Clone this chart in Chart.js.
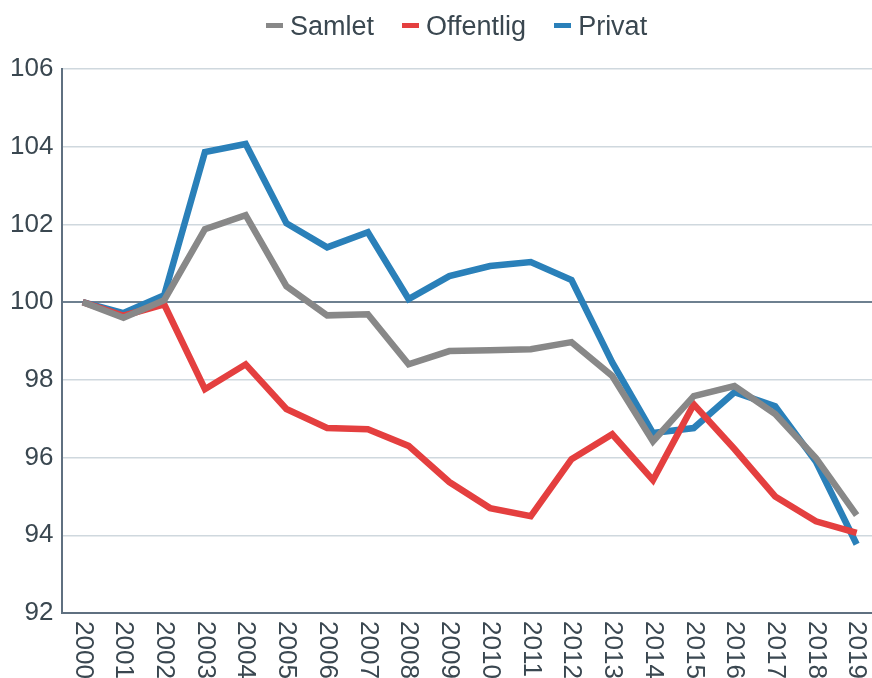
<!DOCTYPE html>
<html>
<head>
<meta charset="utf-8">
<script src="https://cdn.jsdelivr.net/npm/chart.js@4"></script>
<style>
  html, body { margin: 0; padding: 0; background: #fff; overflow: hidden; }
  #wrap { position: relative; width: 872px; height: 678px; overflow: hidden; }
  #legend {
    position: absolute; top: 10px; left: 266px;
    display: flex; gap: 28px;
    font-family: 'Liberation Sans', Arial, sans-serif;
    font-size: 27px; line-height: 32px; color: #3a4750;
  }
  #legend span.item { display: flex; align-items: center; gap: 7px; }
  #legend span.mark { display: inline-block; width: 17px; height: 5px; margin-top: -1px; }
</style>
</head>
<body>
<div id="wrap">
  <canvas id="chart" width="877" height="678"></canvas>
  <div id="legend"></div>
</div>
<script>
// Data
const years = ['2000', '2001', '2002', '2003', '2004', '2005', '2006', '2007', '2008', '2009',
  '2010', '2011', '2012', '2013', '2014', '2015', '2016', '2017', '2018', '2019'];

const samlet = [100, 99.6, 100.05, 101.88, 102.24, 100.41, 99.66, 99.69, 98.4, 98.74,
  98.76, 98.79, 98.97, 98.1, 96.42, 97.58, 97.84, 97.12, 95.99, 94.52];

const offentlig = [100, 99.65, 99.94, 97.76, 98.4, 97.25, 96.76, 96.73, 96.3, 95.37,
  94.7, 94.49, 95.96, 96.6, 95.42, 97.37, 96.22, 95.0, 94.36, 94.06];

const privat = [100, 99.72, 100.18, 103.86, 104.07, 102.03, 101.41, 101.8, 100.08, 100.67,
  100.93, 101.03, 100.57, 98.45, 96.63, 96.76, 97.68, 97.32, 95.9, 93.77];

const yTicks = [92, 94, 96, 98, 100, 102, 104, 106];

const FONT = "'Liberation Sans', Arial, sans-serif";
const TEXT = '#3a4750';
const AXIS = '#5f7080';

const series = [
  { label: 'Samlet', data: samlet, color: '#888888' },
  { label: 'Offentlig', data: offentlig, color: '#e43f3f' },
  { label: 'Privat', data: privat, color: '#2a80b9' }
];

// rotated year labels (reading top to bottom)
const yearLabels = {
  id: 'yearLabels',
  afterDraw(chart) {
    const ctx = chart.ctx;
    const x = chart.scales.x;
    ctx.save();
    ctx.font = '26px ' + FONT;
    ctx.fillStyle = TEXT;
    ctx.textAlign = 'left';
    ctx.textBaseline = 'middle';
    years.forEach((y, i) => {
      ctx.save();
      ctx.translate(x.getPixelForTick(i), chart.chartArea.bottom + 8);
      ctx.rotate(Math.PI / 2);
      ctx.fillText(y, 0, 0);
      ctx.restore();
    });
    ctx.restore();
  }
};

new Chart(document.getElementById('chart'), {
  type: 'line',
  data: {
    labels: years,
    datasets: series.map(s => ({
      label: s.label,
      data: s.data,
      borderColor: s.color,
      backgroundColor: s.color,
      borderWidth: 6.5,
      pointRadius: 0,
      tension: 0,
      fill: false
    }))
  },
  options: {
    responsive: false,
    animation: false,
    layout: { padding: { left: 1, top: 69, right: 0, bottom: 57 } },
    plugins: { legend: { display: false }, tooltip: { enabled: false } },
    scales: {
      x: {
        offset: true,
        grid: { display: false },
        border: { color: AXIS, width: 2 },
        ticks: { display: false }
      },
      y: {
        min: 92,
        max: 106,
        afterBuildTicks: axis => { axis.ticks = yTicks.map(v => ({ value: v })); },
        grid: {
          drawTicks: false,
          color: c => (c.tick && (c.tick.value === 100 || c.tick.value === 92)) ? '#6e8090' : '#cfd8de',
          lineWidth: c => (c.tick && c.tick.value === 100) ? 2 : 1.5
        },
        border: { color: AXIS, width: 2 },
        ticks: { font: { family: FONT, size: 26 }, color: TEXT, padding: 9 }
      }
    }
  },
  plugins: [yearLabels]
});

document.getElementById('legend').innerHTML = series.map(s =>
  `<span class="item"><span class="mark" style="background:${s.color}"></span>${s.label}</span>`
).join('');
</script>
</body>
</html>
